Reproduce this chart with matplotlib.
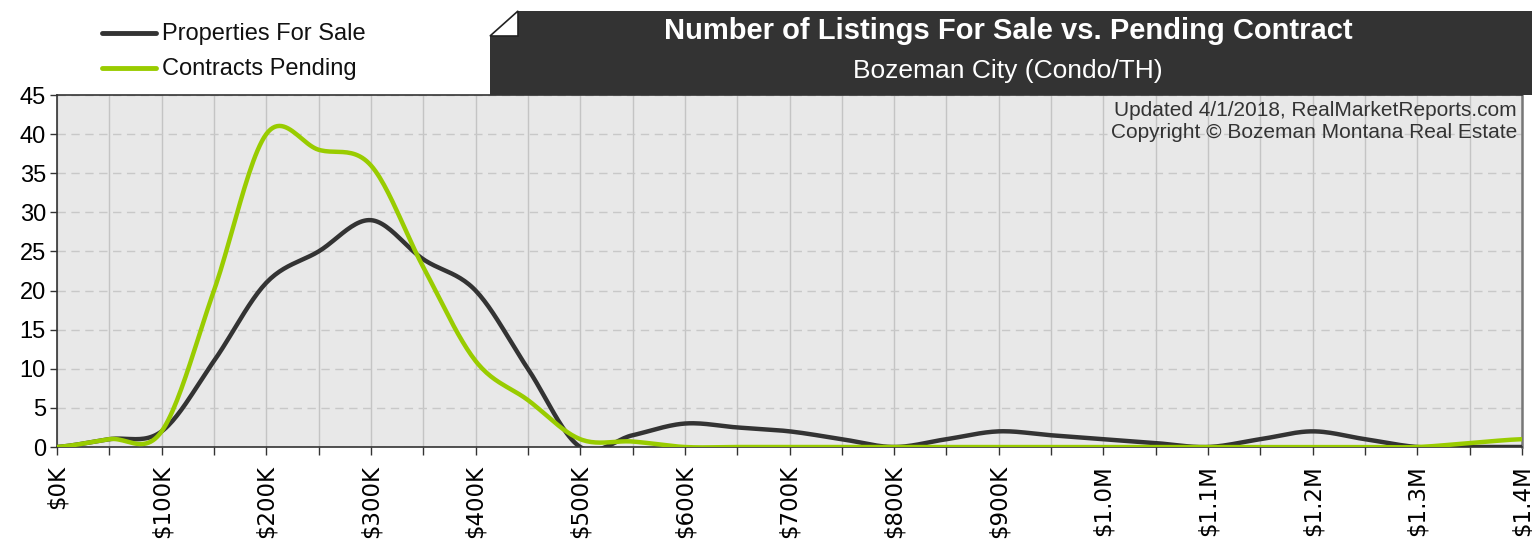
import numpy as np
import matplotlib
matplotlib.use("Agg")
from matplotlib import pyplot as plt
from matplotlib import font_manager
from matplotlib.patches import Polygon

# price points in $K, one every $50K
prices = [0, 50, 100, 150, 200, 250, 300, 350, 400, 450, 500, 550, 600, 650, 700,
          750, 800, 850, 900, 950, 1000, 1050, 1100, 1150, 1200, 1250, 1300, 1350, 1400]
for_sale = [0, 1, 2, 11, 21, 25, 29, 24, 20, 10, 0, 1.5, 3, 2.5, 2,
            1, 0, 1, 2, 1.5, 1, 0.5, 0, 1, 2, 1, 0, 0, 0]
pending = [0, 1, 2, 20, 40, 38, 36, 23, 11, 6, 1, 0.7, 0, 0, 0,
           0, 0, 0, 0, 0, 0, 0, 0, 0, 0, 0, 0, 0.5, 1]
tick_labels = ['$0K', '$100K', '$200K', '$300K', '$400K', '$500K', '$600K', '$700K',
               '$800K', '$900K', '$1.0M', '$1.1M', '$1.2M', '$1.3M', '$1.4M']

title = 'Number of Listings For Sale vs. Pending Contract'
subtitle = 'Bozeman City (Condo/TH)'
note = 'Updated 4/1/2018, RealMarketReports.com\nCopyright © Bozeman Montana Real Estate'

plt.rcParams['font.family'] = ['Liberation Sans', 'DejaVu Sans']

# the title is set in a condensed face, use the narrow one if it is there
installed = {f.name for f in font_manager.fontManager.ttflist}
if 'Liberation Sans Narrow' in installed:
    title_font, title_size = ['Liberation Sans Narrow', 'Liberation Sans'], 25
else:
    title_font, title_size = ['Liberation Sans', 'DejaVu Sans'], 21


def smooth(xs, ys, n=24):
    # catmull-rom, roughly what excel does with "smoothed line"
    xs = np.asarray(xs, float)
    ys = np.asarray(ys, float)
    px = np.concatenate([[2 * xs[0] - xs[1]], xs, [2 * xs[-1] - xs[-2]]])
    py = np.concatenate([[ys[0]], ys, [ys[-1]]])
    out_x, out_y = [], []
    t = np.linspace(0, 1, n, endpoint=False)
    h00 = 2 * t**3 - 3 * t**2 + 1
    h10 = t**3 - 2 * t**2 + t
    h01 = -2 * t**3 + 3 * t**2
    h11 = t**3 - t**2
    for i in range(1, len(px) - 2):
        mx0 = (px[i + 1] - px[i - 1]) / 2
        mx1 = (px[i + 2] - px[i]) / 2
        my0 = (py[i + 1] - py[i - 1]) / 2
        my1 = (py[i + 2] - py[i]) / 2
        out_x += list(h00 * px[i] + h10 * mx0 + h01 * px[i + 1] + h11 * mx1)
        out_y += list(h00 * py[i] + h10 * my0 + h01 * py[i + 1] + h11 * my1)
    out_x.append(xs[-1])
    out_y.append(ys[-1])
    return out_x, out_y


W, H = 1532, 543
fig = plt.figure(figsize=(W / 100, H / 100), dpi=100)
ax = fig.add_axes([57 / W, 1 - 447 / H, (1522 - 57) / W, (447 - 95) / H])
ax.set_facecolor('#e8e8e8')

x, y = smooth(prices, for_sale)
ax.plot(x, y, color='#333333', lw=3.2, solid_capstyle='round', zorder=3)
x, y = smooth(prices, pending)
ax.plot(x, y, color='#99cc00', lw=3.2, solid_capstyle='round', zorder=4)

ax.set_xlim(0, 1400)
ax.set_ylim(0, 45)
ax.set_yticks(range(0, 46, 5))
ax.set_xticks(range(0, 1401, 100))
ax.set_xticklabels(tick_labels, rotation=90, family='DejaVu Sans', fontsize=16.5)
ax.set_xticks(range(50, 1400, 100), minor=True)
ax.tick_params(axis='x', which='both', length=6, width=1, color='#333333', pad=7)
ax.tick_params(axis='y', length=5, width=1, color='#333333', labelsize=17, pad=3)

ax.grid(axis='x', which='both', color='#c4c4c4', lw=1, ls='-')
ax.grid(axis='y', color='#c8c8c8', lw=1, ls=(0, (6, 4)))
ax.set_axisbelow(True)
for side in ['left', 'bottom', 'top']:
    ax.spines[side].set_color('#333333')
    ax.spines[side].set_linewidth(1.2)
ax.spines['right'].set_color('#777777')
ax.spines['right'].set_linewidth(1.8)

ax.text(0.9965, 0.982, note, transform=ax.transAxes, ha='right', va='top',
        fontsize=15, color='#333333', linespacing=1.2)


# title banner with folded corner
def fx(px):
    return px / W


def fy(py):
    return 1 - py / H


banner = Polygon([(fx(490), fy(95)), (fx(490), fy(36)), (fx(518), fy(11)),
                  (fx(W), fy(11)), (fx(W), fy(95))],
                 closed=True, transform=fig.transFigure, facecolor='#333333',
                 edgecolor='none', zorder=1)
fig.patches.append(banner)
flap = Polygon([(fx(490), fy(36)), (fx(518), fy(11)), (fx(518), fy(36))],
               closed=True, transform=fig.transFigure, facecolor='white',
               edgecolor='#222222', lw=1.2, zorder=2)
fig.patches.append(flap)

fig.text(fx(1008), fy(31), title, ha='center', va='center', color='white',
         fontsize=title_size, fontweight='bold', family=title_font)
fig.text(fx(1008), fy(71), subtitle, ha='center', va='center', color='white',
         fontsize=19)

# legend drawn by hand at the top left
for yy, col, lab in [(33, '#333333', 'Properties For Sale'), (68, '#99cc00', 'Contracts Pending')]:
    fig.add_artist(plt.Line2D([fx(102), fx(156)], [fy(yy), fy(yy)], color=col, lw=3.5,
                              solid_capstyle='round', transform=fig.transFigure))
    fig.text(fx(162), fy(yy + 1), lab, ha='left', va='center', fontsize=17, color='#111111')

fig.savefig('out.png', dpi=100)
